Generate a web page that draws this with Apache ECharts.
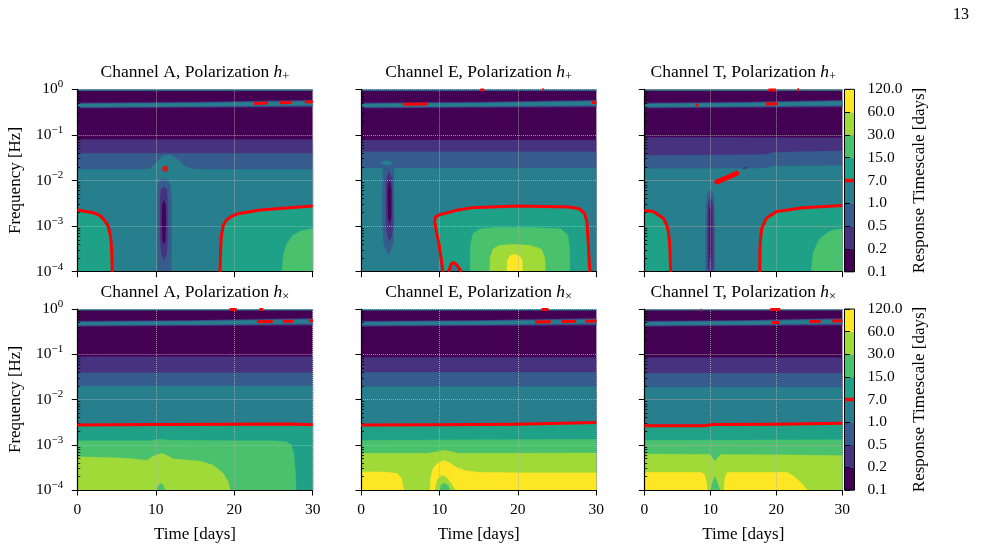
<!DOCTYPE html>
<html><head><meta charset="utf-8">
<script src="https://cdn.jsdelivr.net/npm/echarts@6/dist/echarts.min.js"></script>
<style>html,body{margin:0;padding:0;background:#fff}#c{width:982px;height:549px}</style>
</head><body><div id="c"></div>
<script>
// ---------------- data ----------------
const LEVEL_LABELS = ['0.1','0.2','0.5','1.0','7.0','15.0','30.0','60.0','120.0'];
const LEVEL_COLORS = ['#440154','#46327e','#365c8d','#277f8e','#1fa187','#4ac16d','#a0da39','#fde725'];
const CONTOUR_LABEL = '7.0';
const TIME_TICKS = [0, 10, 20, 30];
const FREQ_EXPONENTS = [-4, -3, -2, -1, 0];
const CHANNELS = ['A', 'E', 'T', 'A', 'E', 'T'];
const POLARIZATIONS = ['+', '+', '+', '×', '×', '×'];

// filled contour regions: [level index, "time,log10(freq) ..."] painted in order
const A_PLUS_FILL = [
 [0,"0,0 30,0 30,-4 0,-4"],
 [3,"0,0 30,0 30,-0.03 0,-0.03"],
 [1,"0,-0.295 15,-0.28 30,-0.235 30,-0.39 15,-0.40 0,-0.415"],
 [2,"0,-0.31 15,-0.29 30,-0.25 30,-0.365 15,-0.385 0,-0.40"],
 [3,"0,-0.325 15,-0.305 30,-0.265 30,-0.345 15,-0.37 0,-0.38"],
 [1,"0,-1.10 30,-1.10 30,-4 0,-4"],
 [2,"0,-1.40 30,-1.40 30,-4 0,-4"],
 [3,"0,-1.755 8.5,-1.755 9.3,-1.74 10.1,-1.6 10.9,-1.46 11.8,-1.43 12.6,-1.51 13.5,-1.66 14.4,-1.74 15.5,-1.755 30,-1.755 30,-4 0,-4"],
 [4,"0,-2.647 2,-2.705 2.9,-2.77 3.5,-2.88 3.95,-3.01 4.25,-3.23 4.4,-3.6 4.45,-4 0,-4"],
 [4,"18.19,-4 18.25,-3.6 18.35,-3.23 18.6,-2.98 19.0,-2.87 19.6,-2.79 20.3,-2.735 23.3,-2.647 27.5,-2.59 30,-2.56 30,-4"],
 [5,"26.05,-4 26.3,-3.6 26.7,-3.38 27.5,-3.2 28.5,-3.1 30,-3.05 30,-4"],
 [2,"11.0,-1.96 11.5,-1.99 11.85,-2.1 12.0,-2.3 12.0,-3.6 11.95,-4 10.25,-4 10.2,-3.6 10.2,-2.3 10.3,-2.1 10.55,-1.99"],
 [1,"11.05,-2.13 11.4,-2.2 11.5,-2.4 11.5,-3.3 11.4,-3.6 11.05,-3.75 10.7,-3.6 10.55,-3.3 10.55,-2.4 10.65,-2.2"],
 [0,"11.03,-2.42 11.25,-2.55 11.3,-2.9 11.2,-3.3 11.03,-3.4 10.85,-3.3 10.78,-2.9 10.82,-2.55"]
];
const A_PLUS_RED = [
 "0,-2.647 2,-2.705 2.9,-2.77 3.5,-2.88 3.95,-3.01 4.25,-3.23 4.4,-3.6 4.45,-4",
 "18.19,-4 18.25,-3.6 18.35,-3.23 18.6,-2.98 19.0,-2.87 19.6,-2.79 20.3,-2.735 23.3,-2.647 27.5,-2.59 30,-2.56",
 "22.5,-0.31 24.3,-0.30", "25.8,-0.295 27.3,-0.29", "29.0,-0.28 30,-0.275"
];
const A_PLUS_DOTS = ["11.2,-1.745"];

const E_PLUS_FILL = [
 [0,"0,0 30,0 30,-4 0,-4"],
 [3,"0,0 30,0 30,-0.03 0,-0.03"],
 [1,"0,-0.295 15,-0.28 30,-0.235 30,-0.39 15,-0.40 0,-0.415"],
 [2,"0,-0.31 15,-0.29 30,-0.25 30,-0.365 15,-0.385 0,-0.40"],
 [3,"0,-0.325 15,-0.305 30,-0.265 30,-0.345 15,-0.37 0,-0.38"],
 [1,"0,-1.11 30,-1.11 30,-4 0,-4"],
 [2,"0,-1.37 30,-1.37 30,-4 0,-4"],
 [3,"0,-1.73 30,-1.73 30,-4 0,-4"],
 [3,"2.4,-1.61 3.0,-1.56 3.8,-1.58 4.0,-1.63 3.3,-1.67"],
 [2,"2.8,-1.72 4.2,-1.72 4.2,-3.0 4.1,-3.4 3.5,-3.63 2.9,-3.4 2.75,-3.0"],
 [1,"3.55,-1.80 3.95,-1.95 4.05,-3.0 3.9,-3.25 3.6,-3.32 3.35,-3.2 3.2,-3.0 3.2,-2.0"],
 [0,"3.6,-2.0 3.85,-2.2 3.85,-2.8 3.65,-2.95 3.45,-2.8 3.4,-2.2"],
 [4,"10.45,-4 10.2,-3.7 9.95,-3.4 9.6,-3.1 9.4,-2.9 9.5,-2.8 10.0,-2.75 11.0,-2.71 12.0,-2.66 14.0,-2.6 20.0,-2.56 26.5,-2.58 27.8,-2.62 28.5,-2.72 28.8,-2.9 28.95,-3.3 29.1,-3.8 29.2,-4"],
 [3,"11.15,-4 11.5,-3.83 11.8,-3.8 12.2,-3.85 12.8,-4"],
 [5,"13.9,-4 13.95,-3.4 14.3,-3.15 15.2,-3.06 17,-3.03 22,-3.03 25.5,-3.06 26.4,-3.2 26.6,-3.5 26.65,-4"],
 [6,"16.4,-4 16.45,-3.7 16.8,-3.5 17.6,-3.42 19.5,-3.40 21.5,-3.42 23,-3.5 23.45,-3.7 23.5,-4"],
 [7,"18.6,-4 18.65,-3.75 19.0,-3.65 19.6,-3.62 20.2,-3.65 20.55,-3.75 20.6,-4"]
];
const E_PLUS_RED = [
 "10.45,-4 10.2,-3.7 9.95,-3.4 9.6,-3.1 9.4,-2.9 9.5,-2.8 10.0,-2.75 11.0,-2.71 12.0,-2.66 14.0,-2.6 20.0,-2.56 26.5,-2.58 27.8,-2.62 28.5,-2.72 28.8,-2.9 28.95,-3.3 29.1,-3.8 29.2,-4",
 "11.15,-4 11.5,-3.83 11.8,-3.8 12.2,-3.85 12.8,-4",
 "5.4,-0.33 8.5,-0.325", "29.4,-0.29 30,-0.29", "15.2,-0.015 15.7,-0.015", "23.1,-0.01 23.3,-0.01"
];

const T_PLUS_FILL = [
 [0,"0,0 30,0 30,-4 0,-4"],
 [3,"0,0 30,0 30,-0.03 0,-0.03"],
 [1,"0,-0.295 15,-0.28 30,-0.235 30,-0.39 15,-0.40 0,-0.415"],
 [2,"0,-0.31 15,-0.29 30,-0.25 30,-0.365 15,-0.385 0,-0.40"],
 [3,"0,-0.325 15,-0.305 30,-0.265 30,-0.345 15,-0.37 0,-0.38"],
 [1,"0,-1.05 30,-1.06 30,-4 0,-4"],
 [2,"0,-1.45 18.5,-1.43 19.5,-1.38 30,-1.35 30,-4 0,-4"],
 [3,"0,-1.74 18.5,-1.73 19.5,-1.69 30,-1.67 30,-4 0,-4"],
 [1,"14.9,-1.72 15.5,-1.70 15.6,-1.73 15.0,-1.75"],
 [4,"0,-2.66 1.36,-2.68 2.88,-2.83 3.4,-2.98 3.64,-3.12 3.85,-3.4 3.9,-3.63 3.99,-4 0,-4"],
 [4,"17.5,-4 17.52,-3.5 17.6,-3.3 17.78,-3.05 18.5,-2.83 20.05,-2.68 24.1,-2.6 30,-2.55 30,-4"],
 [5,"25.25,-4 25.6,-3.56 26.6,-3.27 28.1,-3.11 30,-3.05 30,-4"],
 [2,"10.0,-2.2 10.45,-2.3 10.65,-2.6 10.7,-4 9.3,-4 9.35,-2.6 9.55,-2.3"],
 [1,"10.0,-2.36 10.35,-2.5 10.45,-2.8 10.45,-3.9 10.2,-4 9.8,-4 9.6,-3.9 9.6,-2.8 9.7,-2.5"],
 [0,"10.0,-2.5 10.12,-2.7 10.12,-3.6 10.0,-3.8 9.88,-3.6 9.88,-2.7"]
];
const T_PLUS_RED = [
 "0,-2.66 1.36,-2.68 2.88,-2.83 3.4,-2.98 3.64,-3.12 3.85,-3.4 3.9,-3.63 3.99,-4",
 "17.5,-4 17.52,-3.5 17.6,-3.3 17.78,-3.05 18.5,-2.83 20.05,-2.68 24.1,-2.6 30,-2.55",
 "7.8,-0.344 8.2,-0.344", "18.4,-0.32 20.2,-0.315", "18.8,-0.015 19.95,-0.015", "23.2,-0.01 23.45,-0.01"
];
const T_PLUS_RED_THICK = ["11,-2.03 12.5,-1.94 14,-1.84"];

const A_CROSS_FILL = [
 [0,"0,0 30,0 30,-4 0,-4"],
 [3,"0,0 30,0 30,-0.03 0,-0.03"],
 [1,"0,-0.265 15,-0.25 30,-0.205 30,-0.36 15,-0.37 0,-0.385"],
 [2,"0,-0.28 15,-0.26 30,-0.22 30,-0.335 15,-0.355 0,-0.37"],
 [3,"0,-0.295 15,-0.275 30,-0.235 30,-0.315 15,-0.34 0,-0.35"],
 [1,"0,-1.053 30,-1.053 30,-4 0,-4"],
 [2,"0,-1.407 30,-1.407 30,-4 0,-4"],
 [3,"0,-1.70 30,-1.70 30,-4 0,-4"],
 [4,"0,-2.565 10,-2.555 20,-2.545 27,-2.54 30,-2.56 30,-4 0,-4"],
 [5,"0,-2.91 9,-2.91 10.5,-2.88 12,-2.9 25,-2.91 26.6,-2.93 27.3,-3.0 27.6,-3.2 27.8,-3.6 27.9,-4 0,-4"],
 [6,"0,-3.263 5,-3.285 7.1,-3.31 8.84,-3.34 9.7,-3.25 10.75,-3.19 11.6,-3.25 12.2,-3.31 15.6,-3.36 17.3,-3.45 18.6,-3.63 19.25,-3.82 19.5,-4 0,-4"],
 [5,"10.1,-4 10.35,-3.9 10.6,-3.85 10.9,-3.88 11.2,-4"]
];
const A_CROSS_RED = [
 "0,-2.565 10,-2.555 20,-2.545 27,-2.54 30,-2.56",
 "22.9,-0.28 24.9,-0.275", "26.2,-0.27 27.5,-0.27", "29.5,-0.262 30,-0.26",
 "19.4,-0.01 20.3,-0.01", "23.2,-0.01 23.7,-0.01"
];

const E_CROSS_FILL = [
 [0,"0,0 30,0 30,-4 0,-4"],
 [3,"0,0 30,0 30,-0.03 0,-0.03"],
 [1,"0,-0.265 15,-0.25 30,-0.205 30,-0.36 15,-0.37 0,-0.385"],
 [2,"0,-0.28 15,-0.26 30,-0.22 30,-0.335 15,-0.355 0,-0.37"],
 [3,"0,-0.295 15,-0.275 30,-0.235 30,-0.315 15,-0.34 0,-0.35"],
 [1,"0,-1.068 30,-1.068 30,-4 0,-4"],
 [2,"0,-1.40 30,-1.40 30,-4 0,-4"],
 [3,"0,-1.716 30,-1.716 30,-4 0,-4"],
 [4,"0,-2.565 10,-2.56 20,-2.545 30,-2.51 30,-4 0,-4"],
 [5,"0,-2.9 30,-2.88 30,-4 0,-4"],
 [6,"0,-3.19 8.5,-3.19 9.5,-3.16 10.5,-3.12 11.5,-3.15 12.5,-3.19 30,-3.18 30,-4 0,-4"],
 [7,"0,-3.595 3,-3.6 4.6,-3.63 5.2,-3.75 5.45,-4 0,-4"],
 [7,"8.8,-4 8.9,-3.7 9.2,-3.52 9.8,-3.40 10.5,-3.35 11.3,-3.40 12.2,-3.5 13.3,-3.57 15,-3.61 20,-3.62 30,-3.617 30,-4"],
 [6,"9.45,-4 9.7,-3.78 10.3,-3.67 10.9,-3.72 11.6,-3.88 12,-4"],
 [5,"10.0,-4 10.25,-3.88 10.7,-3.85 11.1,-3.9 11.35,-4"]
];
const E_CROSS_RED = [
 "0,-2.565 10,-2.56 20,-2.545 30,-2.51",
 "22.2,-0.285 24.2,-0.28", "25.6,-0.275 27.4,-0.272", "28.6,-0.268 30,-0.265",
 "23.0,-0.01 23.9,-0.01"
];

const T_CROSS_FILL = [
 [0,"0,0 30,0 30,-4 0,-4"],
 [3,"0,0 30,0 30,-0.03 0,-0.03"],
 [1,"0,-0.265 15,-0.25 30,-0.205 30,-0.36 15,-0.37 0,-0.385"],
 [2,"0,-0.28 15,-0.26 30,-0.22 30,-0.335 15,-0.355 0,-0.37"],
 [3,"0,-0.295 15,-0.275 30,-0.235 30,-0.315 15,-0.34 0,-0.35"],
 [1,"0,-1.07 30,-1.07 30,-4 0,-4"],
 [2,"0,-1.42 30,-1.42 30,-4 0,-4"],
 [3,"0,-1.73 30,-1.73 30,-4 0,-4"],
 [4,"0,-2.58 9.2,-2.58 10.4,-2.55 20,-2.545 30,-2.525 30,-4 0,-4"],
 [5,"0,-2.9 30,-2.89 30,-4 0,-4"],
 [6,"0,-3.204 20,-3.22 30,-3.24 30,-4 0,-4"],
 [5,"9.9,-3.2 10.7,-3.36 11.6,-3.2"],
 [7,"0,-3.61 8.6,-3.61 9.1,-3.65 9.4,-3.8 9.55,-4 0,-4"],
 [7,"12.07,-4 12.2,-3.75 12.5,-3.62 13,-3.61 21.6,-3.61 22.6,-3.69 23.6,-3.82 24.3,-3.93 24.7,-4"],
 [5,"10.05,-4 10.4,-3.8 10.7,-3.7 11.0,-3.8 11.46,-4"]
];
const T_CROSS_RED = [
 "0,-2.58 9.2,-2.58 10.4,-2.55 20,-2.545 30,-2.525",
 "19.3,-0.30 20.5,-0.30", "25.1,-0.275 26.7,-0.275", "28.5,-0.265 30,-0.262",
 "19.1,-0.01 20.6,-0.01", "8.55,-0.02 8.7,-0.02"
];

// ---------------- layout & style ----------------
const FONT = '"Liberation Serif","DejaVu Serif","Times New Roman",serif';
const ROW_TOP = [89.3, 309], ROW_H = [182.4, 181];
const COL_LEFT = [77.3, 361, 644.3], COL_W = [235.4, 235.3, 198];
const CB_LEFT = 844.5, CB_W = 10;
const TICK_FS = 15.5, TITLE_FS = 17.5, NAME_FS = 17;
const GRID_LINE = {type: 'dotted', color: 'rgba(176,176,176,0.8)', width: 1};
const RED = '#ff0000';

const PANELS = [
 {fill: A_PLUS_FILL, red: A_PLUS_RED, dots: A_PLUS_DOTS, thick: []},
 {fill: E_PLUS_FILL, red: E_PLUS_RED, dots: [], thick: []},
 {fill: T_PLUS_FILL, red: T_PLUS_RED, dots: [], thick: T_PLUS_RED_THICK},
 {fill: A_CROSS_FILL, red: A_CROSS_RED, dots: [], thick: []},
 {fill: E_CROSS_FILL, red: E_CROSS_RED, dots: [], thick: []},
 {fill: T_CROSS_FILL, red: T_CROSS_RED, dots: [], thick: []}
];
const parsePts = s => s.trim().split(/\s+/).map(p => p.split(',').map(Number));

// minor log ticks (2..9 x 10^n)
const MINOR = [];
FREQ_EXPONENTS.slice(0, -1).forEach(e => { for (let k = 2; k <= 9; k++) MINOR.push(e + Math.log10(k)); });

const grid = [], xAxis = [], yAxis = [], series = [], graphic = [];
const expLabel = v => '{b|10}{s|' + (v === 0 ? '0' : '\u2212' + (-v)) + '}';

PANELS.forEach((p, i) => {
  const row = Math.floor(i / 3), col = i % 3;
  grid.push({left: COL_LEFT[col], top: ROW_TOP[row], width: COL_W[col], height: ROW_H[row]});
  xAxis.push({
    type: 'value', gridIndex: i, min: TIME_TICKS[0], max: TIME_TICKS[TIME_TICKS.length - 1], interval: 10, z: 3,
    axisLine: {show: true, onZero: false, lineStyle: {color: '#000', width: 1.2}},
    axisTick: {show: true, length: 5.5, lineStyle: {color: '#000', width: 1}},
    axisLabel: {show: row === 1, fontFamily: FONT, fontSize: TICK_FS, color: '#000', margin: 12},
    splitLine: {show: true, lineStyle: GRID_LINE},
    name: row === 1 ? 'Time [days]' : '', nameLocation: 'middle', nameGap: 36,
    nameTextStyle: {fontFamily: FONT, fontSize: NAME_FS, color: '#000'}
  });
  yAxis.push({
    type: 'value', gridIndex: i, min: FREQ_EXPONENTS[0], max: FREQ_EXPONENTS[FREQ_EXPONENTS.length - 1], interval: 1, z: 3,
    axisLine: {show: true, onZero: false, lineStyle: {color: '#000', width: 1.2}},
    axisTick: {show: true, length: 5.5, lineStyle: {color: '#000', width: 1}},
    axisLabel: {show: col === 0, formatter: expLabel, margin: 14, color: '#000',
      rich: {b: {fontFamily: FONT, fontSize: TICK_FS, color: '#000'},
             s: {fontFamily: FONT, fontSize: 11, color: '#000', padding: [0, 0, 10, 0]}}},
    splitLine: {show: true, lineStyle: GRID_LINE},
    name: col === 0 ? 'Frequency [Hz]' : '', nameLocation: 'middle', nameGap: 53, nameRotate: 90,
    nameTextStyle: {fontFamily: FONT, fontSize: NAME_FS, color: '#000'}
  });
  yAxis.push({
    type: 'value', gridIndex: i, min: FREQ_EXPONENTS[0], max: FREQ_EXPONENTS[FREQ_EXPONENTS.length - 1], z: 3,
    axisLine: {show: false}, axisLabel: {show: false}, splitLine: {show: false},
    axisTick: {show: true, length: 3, customValues: MINOR, lineStyle: {color: '#000', width: 0.8}}
  });
  const fills = p.fill;
  series.push({
    type: 'custom', xAxisIndex: i, yAxisIndex: 2 * i, silent: true, clip: true, z: 2,
    data: fills.map(() => [15, -2]),
    renderItem: (params, api) => {
      const s = fills[params.dataIndex];
      const pts = parsePts(s[1]).map(q => api.coord(q));
      return {type: 'polygon', shape: {points: pts}, style: {fill: LEVEL_COLORS[s[0]], stroke: LEVEL_COLORS[s[0]], lineWidth: 0.3}};
    }
  });
  p.red.forEach(s => series.push({
    type: 'line', xAxisIndex: i, yAxisIndex: 2 * i, data: parsePts(s), symbol: 'none', silent: true, z: 4,
    lineStyle: {color: RED, width: 3, cap: 'butt', join: 'round'}
  }));
  p.thick.forEach(s => series.push({
    type: 'line', xAxisIndex: i, yAxisIndex: 2 * i, data: parsePts(s), symbol: 'none', silent: true, z: 4,
    lineStyle: {color: RED, width: 5, cap: 'round'}
  }));
  if (p.dots.length) series.push({
    type: 'scatter', xAxisIndex: i, yAxisIndex: 2 * i, data: p.dots.map(s => parsePts(s)[0]),
    symbol: 'circle', symbolSize: 6, itemStyle: {color: RED}, silent: true, z: 4
  });
  // title
  graphic.push({
    type: 'text', x: COL_LEFT[col] + COL_W[col] / 2, y: row === 0 ? 72 : 292, silent: true,
    style: {
      text: '{n|Channel ' + CHANNELS[i] + ', Polarization }{i|h}{s|' + POLARIZATIONS[i] + '}',
      align: 'center', verticalAlign: 'middle',
      rich: {
        n: {fontFamily: FONT, fontSize: TITLE_FS, fill: '#000'},
        i: {fontFamily: FONT, fontSize: TITLE_FS, fontStyle: 'italic', fill: '#000'},
        s: {fontFamily: FONT, fontSize: 12.5, fill: '#000', padding: [9, 0, 0, 0]}
      }
    }
  });
});

// colorbars
const CONTOUR_IDX = LEVEL_LABELS.indexOf(CONTOUR_LABEL);
[0, 1].forEach(r => {
  const gi = 6 + r, yi = 12 + r;
  grid.push({left: CB_LEFT, top: ROW_TOP[r], width: CB_W, height: ROW_H[r]});
  xAxis.push({type: 'value', gridIndex: gi, min: 0, max: 1, show: false});
  yAxis.push({
    type: 'value', gridIndex: gi, min: 0, max: LEVEL_LABELS.length - 1, interval: 1, position: 'right', z: 3,
    axisLine: {show: false}, splitLine: {show: false},
    axisTick: {show: true, length: 5.5, lineStyle: {color: '#000', width: 1}},
    axisLabel: {formatter: v => LEVEL_LABELS[Math.round(v)], margin: 13, fontFamily: FONT, fontSize: TICK_FS, color: '#000'},
    name: 'Response Timescale [days]', nameLocation: 'middle', nameRotate: 90, nameGap: 57,
    nameTextStyle: {fontFamily: FONT, fontSize: NAME_FS, color: '#000'}
  });
  series.push({
    type: 'custom', xAxisIndex: gi, yAxisIndex: yi, silent: true, z: 2,
    data: LEVEL_COLORS.map((c, k) => [0.5, k + 0.5]),
    renderItem: (params, api) => {
      const k = params.dataIndex;
      const p0 = api.coord([0, k]), p1 = api.coord([1, k + 1]);
      return {type: 'rect', shape: {x: p0[0], y: p1[1], width: p1[0] - p0[0], height: p0[1] - p1[1] + 0.5},
              style: {fill: LEVEL_COLORS[k]}};
    }
  });
  series.push({
    type: 'line', xAxisIndex: gi, yAxisIndex: yi, data: [[0, CONTOUR_IDX], [1, CONTOUR_IDX]],
    symbol: 'none', silent: true, z: 4, lineStyle: {color: RED, width: 3.5, cap: 'butt'}
  });
  series.push({
    type: 'custom', xAxisIndex: gi, yAxisIndex: yi, silent: true, z: 5,
    data: [[0.5, 4]],
    renderItem: (params, api) => {
      const p0 = api.coord([0, 0]), p1 = api.coord([1, LEVEL_LABELS.length - 1]);
      return {type: 'rect', shape: {x: p0[0], y: p1[1], width: p1[0] - p0[0], height: p0[1] - p1[1]},
              style: {fill: 'none', stroke: '#000', lineWidth: 1}};
    }
  });
});

graphic.push({type: 'text', x: 961, y: 15, silent: true,
  style: {text: '13', align: 'center', verticalAlign: 'middle', fontFamily: FONT, fontSize: 16, fill: '#000'}});

const chart = echarts.init(document.getElementById('c'), null, {renderer: 'canvas'});
chart.setOption({animation: false, backgroundColor: '#fff', grid, xAxis, yAxis, series, graphic});
</script></body></html>
